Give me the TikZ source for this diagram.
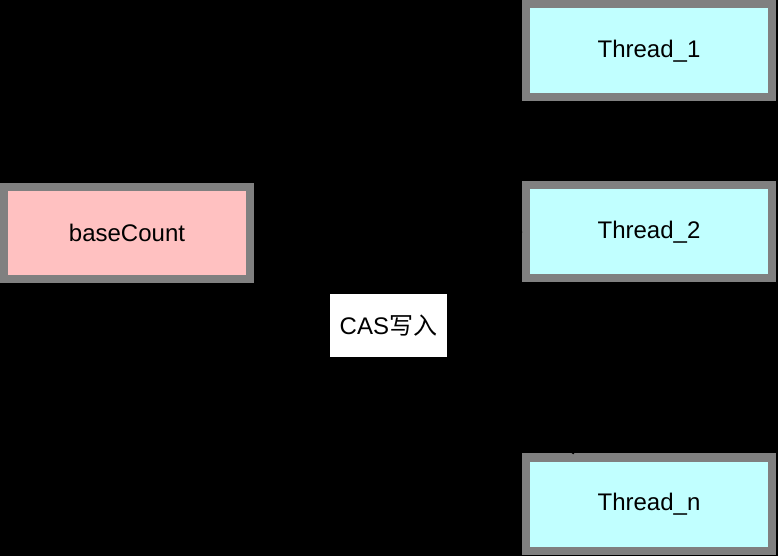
\documentclass[tikz,border=0pt]{standalone}
\usepackage{fontspec}
\setmainfont{Liberation Sans}
\newfontfamily\cjk{Noto Sans CJK SC}
\usepackage{xcolor}
\usepackage{tikz}
\usetikzlibrary{arrows.meta, positioning, calc}

\definecolor{cntpink}{RGB}{255,193,193}
\definecolor{thcyan}{RGB}{193,255,255}
\definecolor{boxgray}{RGB}{128,128,128}

\begin{document}
\begin{tikzpicture}[
  x=0.5pt, y=-0.5pt,
  cntbox/.style={draw=boxgray, line width=4pt, fill=cntpink,
                 minimum width=123pt, minimum height=46pt,
                 font=\fontsize{12}{14}\selectfont, align=center},
  thbox/.style={draw=boxgray, line width=4pt, fill=thcyan,
                minimum width=123pt, minimum height=46.5pt,
                font=\fontsize{12}{14}\selectfont, align=center},
  arr/.style={-latex, line width=1pt, black},
  lab/.style={fill=white, inner xsep=5pt, minimum height=31.5pt,
              font=\fontsize{12}{14}\selectfont},
]

% ---- Background --------------------------------------------------------------
\fill[black] (0,0) rectangle (778,556);
\useasboundingbox (0,0) rectangle (778,556);

% ---- Shared counter ----------------------------------------------------------
\node[cntbox] (base) at (127, 233) {baseCount};

% ---- Threads -----------------------------------------------------------------
\node[thbox] (t1) at (649, 51) {Thread\_1};
\node[thbox] (t2) at (649, 232) {Thread\_2};
\node[thbox] (tn) at (649, 504) {Thread\_n};

% ---- CAS writes --------------------------------------------------------------
\draw[arr] (t1.south west) -- (base.east);
\draw[arr] (t2.west) -- (base.east);
\draw[arr] ($(tn.north west)+(52,0)$) -- node[lab, pos=0.58] (cas) {CAS{\cjk 写入}} (base.east);

\end{tikzpicture}
\end{document}
